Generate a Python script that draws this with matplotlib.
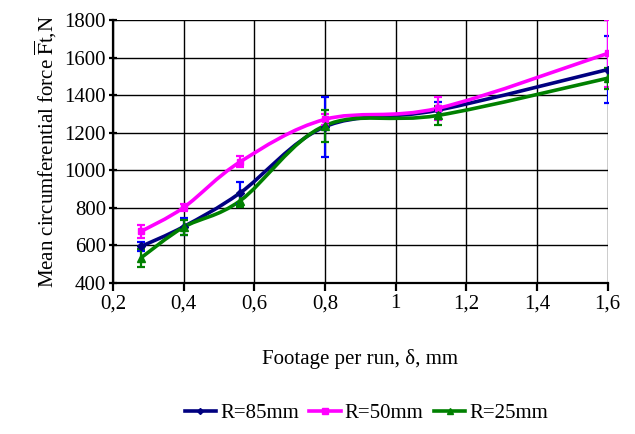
import matplotlib.pyplot as plt
from matplotlib.path import Path
from matplotlib.patches import PathPatch
import numpy as np

plt.rcParams['font.family'] = ['Liberation Serif', 'DejaVu Serif']
plt.rcParams['mathtext.fontset'] = 'stix'

# feed per pass, mm
delta = [0.28, 0.4, 0.56, 0.8, 1.12, 1.6]

# mean circumferential force, N
force_85 = [595, 700, 880, 1232, 1320, 1536]
force_50 = [675, 802, 1045, 1271, 1330, 1622]
force_25 = [535, 697, 838, 1238, 1292, 1490]

# half-widths of the error bars, N
err_85 = [25, 47, 57, 160, 45, 180]
err_50 = [35, 20, 30, 30, 60, 177]
err_25 = [48, 40, 35, 85, 50, 55]

x_ticks = [0.2, 0.4, 0.6, 0.8, 1.0, 1.2, 1.4, 1.6]
x_labels = ["0,2", "0,4", "0,6", "0,8", "1", "1,2", "1,4", "1,6"]
y_ticks = [400, 600, 800, 1000, 1200, 1400, 1600, 1800]

series = [
    ("R=85mm", force_85, err_85, "#000080", "#0000ff", "D", 4),
    ("R=50mm", force_50, err_50, "#ff00ff", "#ff00ff", "s", 5),
    ("R=25mm", force_25, err_25, "#008000", "#008000", "^", 6),
]


def smooth_path(xs, ys):
    # cubic Bezier through the points, like a spreadsheet "smoothed line"
    pts = np.column_stack([xs, ys]).astype(float)
    n = len(pts)
    verts = [pts[0]]
    codes = [Path.MOVETO]
    for i in range(n - 1):
        p0 = pts[i - 1] if i > 0 else pts[i]
        p3 = pts[i + 2] if i + 2 < n else pts[i + 1]
        c1 = pts[i] + (pts[i + 1] - p0) / 6
        c2 = pts[i + 1] - (p3 - pts[i]) / 6
        verts += [c1, c2, pts[i + 1]]
        codes += [Path.CURVE4] * 3
    return Path(verts, codes)


fig = plt.figure(figsize=(6.35, 4.34), dpi=100)
ax = fig.add_axes([0.178, 0.348, 0.779, 0.606])

for label, vals, errs, color, ecolor, marker, ms in series:
    ax.add_patch(PathPatch(smooth_path(delta, vals), facecolor="none",
                           edgecolor=color, lw=2.6, zorder=3))
    ax.errorbar(delta, vals, yerr=errs, fmt="none", ecolor=ecolor,
                elinewidth=1.6, capsize=3, capthick=1.6, zorder=4)
    ax.plot(delta, vals, linestyle="none", marker=marker, ms=ms,
            color=color, zorder=5)
    ax.plot([], [], color=color, lw=2.6, marker=marker, ms=ms - 1,
            label=label)

ax.set_xlim(0.2, 1.6)
ax.set_ylim(400, 1800)
ax.set_xticks(x_ticks)
ax.set_xticklabels(x_labels)
ax.set_yticks(y_ticks)
ax.grid(True, color="black", lw=1)
ax.set_axisbelow(True)
for side in ["top", "right"]:
    ax.spines[side].set_visible(False)
for side in ["left", "bottom"]:
    ax.spines[side].set_linewidth(1.6)
ax.tick_params(axis="both", labelsize=15, length=6, width=1.6,
               direction="inout")
ax.tick_params(axis="x", direction="out", pad=2)
ax.tick_params(axis="y", pad=2)

ax.set_xlabel(r"Footage per run, δ, mm", fontsize=15, labelpad=26)
ax.set_ylabel(r"Mean circumferential force $\overline{\mathrm{F}}\mathrm{t}$,N",
              fontsize=15, labelpad=4)

fig.legend(loc="lower center", bbox_to_anchor=(0.577, -0.018), ncol=3,
           frameon=False, fontsize=15, handlelength=1.5, handletextpad=0.2,
           columnspacing=0.5)

fig.savefig("out.png", dpi=100)
